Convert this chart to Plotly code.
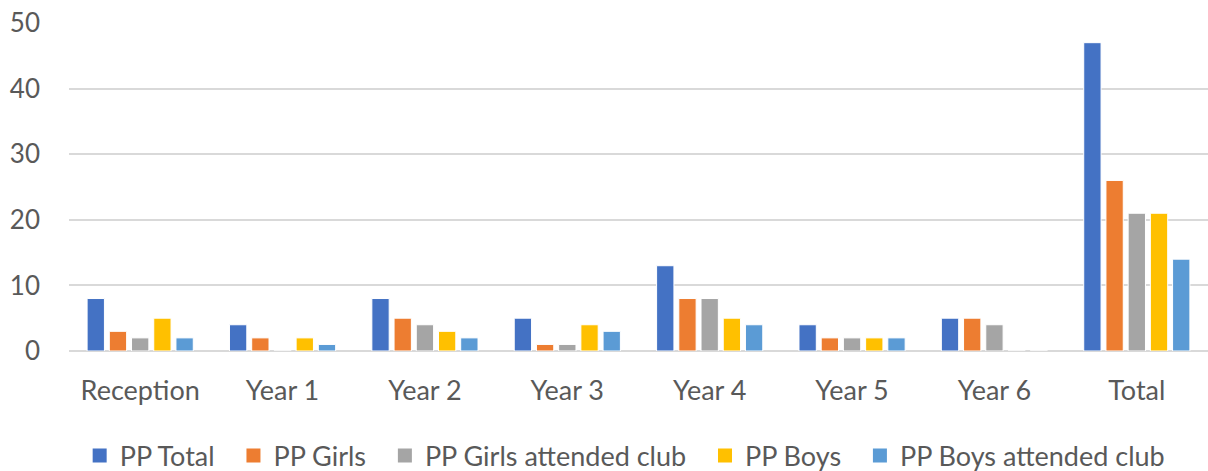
import plotly.graph_objects as go

categories = ["Reception", "Year 1", "Year 2", "Year 3", "Year 4", "Year 5", "Year 6", "Total"]
pp_total = [8, 4, 8, 5, 13, 4, 5, 47]
pp_girls = [3, 2, 5, 1, 8, 2, 5, 26]
pp_girls_club = [2, 0, 4, 1, 8, 2, 4, 21]
pp_boys = [5, 2, 3, 4, 5, 2, 0, 21]
pp_boys_club = [2, 1, 2, 3, 4, 2, 0, 14]

series = [
    ("PP Total", pp_total, "#4472C4"),
    ("PP Girls", pp_girls, "#ED7D31"),
    ("PP Girls attended club", pp_girls_club, "#A5A5A5"),
    ("PP Boys", pp_boys, "#FFC000"),
    ("PP Boys attended club", pp_boys_club, "#5B9BD5"),
]

fig = go.Figure()
for name, vals, color in series:
    fig.add_trace(go.Bar(
        x=categories, y=vals, name=name, showlegend=False, legendgroup=name,
        marker=dict(color=color, line=dict(color="white", width=1)),
    ))
# legend entries with larger square swatches
for name, vals, color in series:
    fig.add_trace(go.Scatter(
        x=[None], y=[None], mode="markers", name=name + "\u00a0\u00a0", legendgroup=name,
        marker=dict(symbol="square", size=14, color=color),
    ))

font_family = "Lato, 'Open Sans', sans-serif"
fig.update_layout(
    width=1208, height=471,
    margin=dict(l=69, r=0, t=23, b=120, autoexpand=False),
    paper_bgcolor="white", plot_bgcolor="white",
    barmode="group", bargap=0.22, bargroupgap=0.22,
    font=dict(family=font_family, size=26, color="#595959"),
    showlegend=True,
    legend=dict(orientation="h", x=0.494, xanchor="center", y=-0.32, yanchor="middle",
                font=dict(size=27, color="#595959"), traceorder="normal",
                itemwidth=30),
    xaxis=dict(showgrid=False, ticks="", showline=False, tickfont=dict(size=27),
               ticklabelstandoff=21, automargin=False),
    yaxis=dict(range=[0, 50], dtick=10, showgrid=True, gridcolor="#d9d9d9", gridwidth=1.5,
               zeroline=True, zerolinecolor="#d9d9d9", zerolinewidth=1.5,
               showline=False, ticks="", ticklabelstandoff=28, tickfont=dict(size=26),
               automargin=False),
)

fig.write_html(
    "out.html",
    config={"displayModeBar": False},
    post_script="document.body.style.margin='0';document.body.style.overflow='hidden';",
)
